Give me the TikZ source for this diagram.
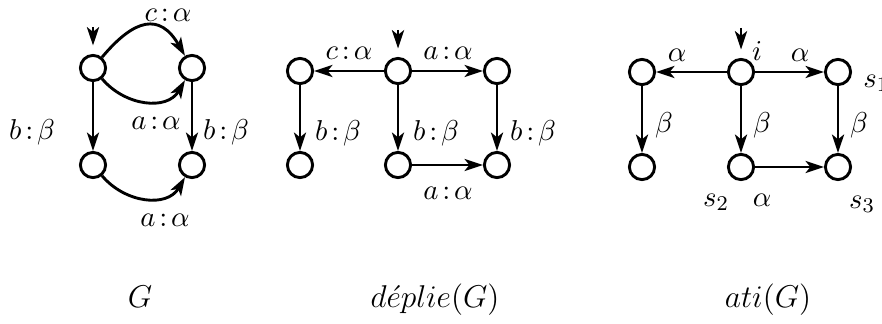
\documentclass[tikz,border=0pt]{standalone}
\usetikzlibrary{arrows.meta}
\newcommand{\cl}{\mkern2.4mu{:}\mkern2.4mu}
\begin{document}
\begin{tikzpicture}[x=0.381pt,y=-0.381pt, line width=1.1pt,
  st/.style={circle,draw,minimum size=9.6pt,inner sep=0pt},
  arr/.style={-{Stealth[length=7pt,width=4.6pt,inset=1.8pt]}},
  initarr/.style={arr,shorten >=3.2pt},
  lab/.style={inner sep=0pt,font=\fontsize{10.95}{13}\selectfont},
  captxt/.style={inner sep=0pt,font=\large}]
\useasboundingbox (0,0) rectangle (882,324);

% ---------- G ----------
\node[st] (g1) at (93,68) {};
\node[st] (g2) at (192,68) {};
\node[st] (g3) at (93,165) {};
\node[st] (g4) at (192,165) {};
\coordinate (g0) at (93,27);
\draw[initarr] (g0) -- (g1);
\draw[arr] (g1) to[out=50,in=120,looseness=1.55] (g2);
\draw[arr] (g1) to[out=-50,in=-120,looseness=1.1] (g2);
\draw[arr] (g1) -- (g3);
\draw[arr] (g2) -- (g4);
\draw[arr] (g3) to[out=-50,in=-120,looseness=1.1] (g4);
\node[lab] (lg1) at (168,15) {$c\cl\alpha$};
\node[lab] (lg2) at (156,123) {$a\cl\alpha$};
\node[lab] (lg3) at (32,132) {$b\cl\beta$};
\node[lab] (lg4) at (226,132) {$b\cl\beta$};
\node[lab] (lg5) at (165,220) {$a\cl\alpha$};
\node[captxt] (cg) at (140,297) {$G$};

% ---------- deplie(G) ----------
\node[st] (d1) at (300,71) {};
\node[st] (d2) at (398,71) {};
\node[st] (d3) at (497,71) {};
\node[st] (d4) at (300,165) {};
\node[st] (d5) at (398,165) {};
\node[st] (d6) at (497,165) {};
\coordinate (d0) at (398,30);
\draw[initarr] (d0) -- (d2);
\draw[arr] (d2) -- (d1);
\draw[arr] (d2) -- (d3);
\draw[arr] (d1) -- (d4);
\draw[arr] (d2) -- (d5);
\draw[arr] (d3) -- (d6);
\draw[arr] (d5) -- (d6);
\node[lab] (ld1) at (349,53) {$c\cl\alpha$};
\node[lab] (ld2) at (448,53) {$a\cl\alpha$};
\node[lab] (ld3) at (338,133) {$b\cl\beta$};
\node[lab] (ld4) at (436,133) {$b\cl\beta$};
\node[lab] (ld5) at (533,133) {$b\cl\beta$};
\node[lab] (ld6) at (448,193) {$a\cl\alpha$};
\node[captxt] (cd) at (435,300) {$d\acute{e}plie(G)$};

% ---------- ati(G) ----------
\node[st] (a1) at (642,72) {};
\node[st] (a2) at (741,72) {};
\node[st] (a3) at (838,72) {};
\node[st] (a4) at (642,167) {};
\node[st] (a5) at (741,167) {};
\node[st] (a6) at (838,167) {};
\coordinate (a0) at (741,28);
\draw[initarr] (a0) -- (a2);
\draw[arr] (a2) -- (a1);
\draw[arr] (a2) -- (a3);
\draw[arr] (a1) -- (a4);
\draw[arr] (a2) -- (a5);
\draw[arr] (a3) -- (a6);
\draw[arr] (a5) -- (a6);
\node[lab] (la1) at (677,55) {$\alpha$};
\node[lab] (la2) at (757,51) {$i$};
\node[lab] (la3) at (800,55) {$\alpha$};
\node[lab,anchor=west] (la4) at (862,83) {$s_1$};
\node[lab] (la5) at (664,125) {$\beta$};
\node[lab] (la6) at (762,125) {$\beta$};
\node[lab] (la7) at (859,125) {$\beta$};
\node[lab] (la8) at (716,202) {$s_2$};
\node[lab] (la9) at (762,200) {$\alpha$};
\node[lab] (la10) at (862,204) {$s_3$};
\node[captxt] (ca) at (768,300) {$ati(G)$};
\end{tikzpicture}
\end{document}
